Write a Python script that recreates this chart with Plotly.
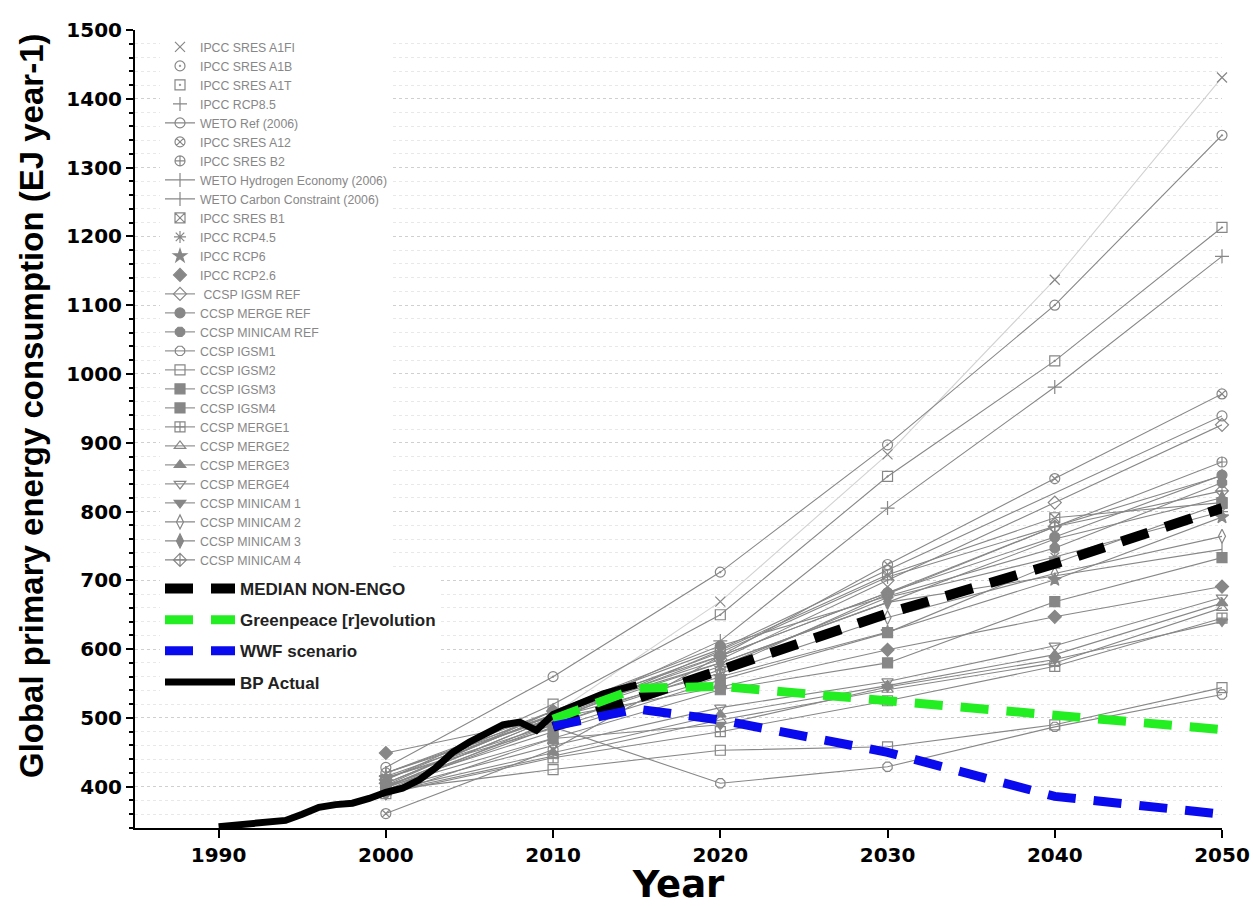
import plotly.graph_objects as go

# ---------------------------------------------------------------------------
# Scenario data (EJ per year), sampled every decade
# ---------------------------------------------------------------------------
scenario_years = [2000, 2010, 2020, 2030, 2040, 2050]

ipcc_sres_a1fi = [405, 505, 669, 883, 1137, 1431]
ipcc_sres_a1b = [428, 560, 712, 897, 1100, 1347]
ipcc_sres_a1t = [410, 520, 650, 851, 1019, 1213]
ipcc_rcp85 = [415, 500, 612, 805, 981, 1171]
weto_ref = [420, 510, 600, 715, None, 939]
ipcc_sres_a12 = [361, 454, 590, 723, 848, 971]
ipcc_sres_b2 = [400, 490, 570, 680, 778, 872]
weto_hydrogen = [420, 505, 595, 705, None, 852]
weto_carbon = [420, 500, 580, 668, None, 745]
ipcc_sres_b1 = [395, 495, 598, 708, 791, 813]
ipcc_rcp45 = [413, 490, 575, 675, 734, 800]
ipcc_rcp6 = [413, 485, 560, 625, 701, 792]
ipcc_rcp26 = [449, 500, 545, 599, 647, 691]
ccsp_igsm_ref = [405, 505, 585, 700, 813, 926]
ccsp_merge_ref = [400, 500, 590, 682, 763, 853]
ccsp_minicam_ref = [402, 510, 605, 677, 747, 842]
ccsp_igsm1 = [398, 487, 405, 429, 487, 534]
ccsp_igsm2 = [395, 425, 453, 458, 490, 544]
ccsp_igsm3 = [400, 470, 541, 580, 669, 733]
ccsp_igsm4 = [402, 480, 555, 624, 725, 812]
ccsp_merge1 = [390, 442, 480, 525, 575, 645]
ccsp_merge2 = [392, 445, 497, 541, 580, 660]
ccsp_merge3 = [394, 450, 505, 547, 592, 667]
ccsp_merge4 = [396, 460, 515, 553, 605, 675]
ccsp_minicam1 = [388, 470, 490, 545, 585, 640]
ccsp_minicam2 = [400, 500, 565, 646, 710, 764]
ccsp_minicam3 = [405, 505, 580, 668, 760, 820]
ccsp_minicam4 = [410, 510, 590, 682, 778, 830]

median_years = [2010, 2020, 2030, 2040, 2050]
median_non_engo = [487, 568, 652, 724, 805]

greenpeace_years = [2010, 2015, 2020, 2030, 2040, 2050]
greenpeace_revolution = [498, 543, 546, 525, 507, 483]

wwf_years = [2010, 2015, 2020, 2030, 2040, 2050]
wwf_scenario = [488, 513, 497, 450, 386, 360]

bp_years = list(range(1990, 2016))
bp_actual = [342, 344, 346, 348, 351, 360, 370, 374, 376, 383, 392, 398, 410,
             428, 450, 465, 477, 490, 494, 482, 505, 515, 525, 535, 542, 548]

y_tick_values = list(range(400, 1501, 100))
x_tick_values = [1990, 2000, 2010, 2020, 2030, 2040, 2050]

# ---------------------------------------------------------------------------
# Series table: label, values, marker symbol, legend shows connecting line
# ---------------------------------------------------------------------------
series = [
    ("IPCC SRES A1FI", ipcc_sres_a1fi, "x-thin-open", False),
    ("IPCC SRES A1B", ipcc_sres_a1b, "circle-open-dot", False),
    ("IPCC SRES A1T", ipcc_sres_a1t, "square-open-dot", False),
    ("IPCC RCP8.5", ipcc_rcp85, "cross-thin-open", False),
    ("WETO Ref (2006)", weto_ref, "circle-open", True),
    ("IPCC SRES A12", ipcc_sres_a12, "circle-x-open", False),
    ("IPCC SRES B2", ipcc_sres_b2, "circle-cross-open", False),
    ("WETO Hydrogen Economy (2006)", weto_hydrogen, "line-ns-open", True),
    ("WETO Carbon Constraint (2006)", weto_carbon, "line-ns-open", True),
    ("IPCC SRES B1", ipcc_sres_b1, "square-x-open", False),
    ("IPCC RCP4.5", ipcc_rcp45, "asterisk-open", False),
    ("IPCC RCP6", ipcc_rcp6, "star", False),
    ("IPCC RCP2.6", ipcc_rcp26, "diamond", False),
    (" CCSP IGSM REF", ccsp_igsm_ref, "diamond-open", True),
    ("CCSP MERGE REF", ccsp_merge_ref, "circle", True),
    ("CCSP MINICAM REF", ccsp_minicam_ref, "octagon", True),
    ("CCSP IGSM1", ccsp_igsm1, "octagon-open", True),
    ("CCSP IGSM2", ccsp_igsm2, "square-open", True),
    ("CCSP IGSM3", ccsp_igsm3, "square", True),
    ("CCSP IGSM4", ccsp_igsm4, "square-cross", True),
    ("CCSP MERGE1", ccsp_merge1, "square-cross-open", True),
    ("CCSP MERGE2", ccsp_merge2, "triangle-up-open", True),
    ("CCSP MERGE3", ccsp_merge3, "triangle-up", True),
    ("CCSP MERGE4", ccsp_merge4, "triangle-down-open", True),
    ("CCSP MINICAM 1", ccsp_minicam1, "triangle-down", True),
    ("CCSP MINICAM 2", ccsp_minicam2, "diamond-tall-open", True),
    ("CCSP MINICAM 3", ccsp_minicam3, "diamond-tall", True),
    ("CCSP MINICAM 4", ccsp_minicam4, "diamond-cross-open", True),
]

GRAY = "#878787"
fig = go.Figure()

for i, (label, values, symbol, legend_line) in enumerate(series):
    line_color = "#d2d2d2" if i == 0 else GRAY
    marker = dict(symbol=symbol, size=10, color=GRAY,
                  line=dict(color=GRAY, width=1.2))
    if legend_line:
        fig.add_trace(go.Scatter(
            x=scenario_years, y=values, name=label, mode="lines+markers",
            line=dict(color=line_color, width=1.1), marker=marker,
            connectgaps=True, cliponaxis=False, legend="legend",
        ))
    else:
        fig.add_trace(go.Scatter(
            x=scenario_years, y=values, mode="lines", showlegend=False,
            line=dict(color=line_color, width=1.1), connectgaps=True,
            cliponaxis=False, hoverinfo="skip",
        ))
        fig.add_trace(go.Scatter(
            x=scenario_years, y=values, name=label, mode="markers",
            marker=marker, cliponaxis=False, legend="legend",
        ))

# Highlighted pathways
fig.add_trace(go.Scatter(
    x=bp_years, y=bp_actual, name="BP Actual", mode="lines",
    line=dict(color="black", width=7), cliponaxis=False,
    legend="legend2", legendgroup="bp", legendrank=4,
))
fig.add_trace(go.Scatter(
    x=median_years, y=median_non_engo, name="MEDIAN NON-ENGO", mode="lines",
    line=dict(color="black", width=10, dash="28px,18px"), cliponaxis=False,
    legend="legend2", legendgroup="median", legendrank=1,
))
fig.add_trace(go.Scatter(
    x=greenpeace_years, y=greenpeace_revolution, name="Greenpeace [r]evolution",
    mode="lines", line=dict(color="#22ee22", width=9, dash="28px,18px"),
    cliponaxis=False, legend="legend2", legendgroup="greenpeace", legendrank=2,
))
fig.add_trace(go.Scatter(
    x=wwf_years, y=wwf_scenario, name="WWF scenario", mode="lines",
    line=dict(color="#0a0aee", width=9, dash="28px,18px"), cliponaxis=False,
    legend="legend2", legendgroup="wwf", legendrank=3,
))

tick_font = dict(family="DejaVu Sans", size=20, color="black", weight="bold")

# Vertical axis title placed as rotated text beside the tick labels
fig.add_annotation(
    text="Global primary energy consumption (EJ year-1)",
    xref="paper", yref="paper", x=-0.0957, y=0.53,
    xanchor="center", yanchor="middle", textangle=-90, showarrow=False,
    font=dict(family="Liberation Sans, Arial", size=33, color="black",
              weight="bold"),
)

fig.update_layout(
    width=1253, height=906,
    margin=dict(l=135, r=31, t=30, b=78, autoexpand=False),
    paper_bgcolor="white", plot_bgcolor="white",
    legend=dict(
        x=0.023, y=0.997, xanchor="left", yanchor="top",
        bgcolor="white", borderwidth=0, tracegroupgap=0,
        font=dict(family="Liberation Sans, Arial", size=12.3, color=GRAY),
    ),
    legend2=dict(
        x=0.023, y=0.322, xanchor="left", yanchor="top",
        bgcolor="white", borderwidth=0, traceorder="grouped",
        tracegroupgap=6, itemwidth=70,
        font=dict(family="Liberation Sans, Arial", size=17, color="#222222",
                  weight="bold"),
    ),
    xaxis=dict(
        range=[1985, 2050], tickvals=x_tick_values, automargin=False,
        ticks="outside", ticklen=8, tickwidth=2, tickcolor="black",
        showline=True, linewidth=2, linecolor="black",
        showgrid=False, zeroline=False, tickfont=tick_font,
        title=dict(text="Year", standoff=12,
                   font=dict(family="DejaVu Sans", size=37, color="black",
                             weight="bold")),
    ),
    yaxis=dict(
        range=[340, 1500], tickvals=y_tick_values, automargin=False,
        ticks="outside", ticklen=7, tickwidth=2, tickcolor="black",
        showline=True, linewidth=2, linecolor="black", zeroline=False,
        showgrid=True, gridcolor="#d0d0d0", griddash="dot", gridwidth=1,
        minor=dict(dtick=20, tick0=0, ticks="outside", ticklen=4,
                   tickwidth=1.5, tickcolor="black", showgrid=True,
                   gridcolor="#e8e8e8", gridwidth=1),
        tickfont=tick_font,
    ),
)

fig.write_html("out.html")
